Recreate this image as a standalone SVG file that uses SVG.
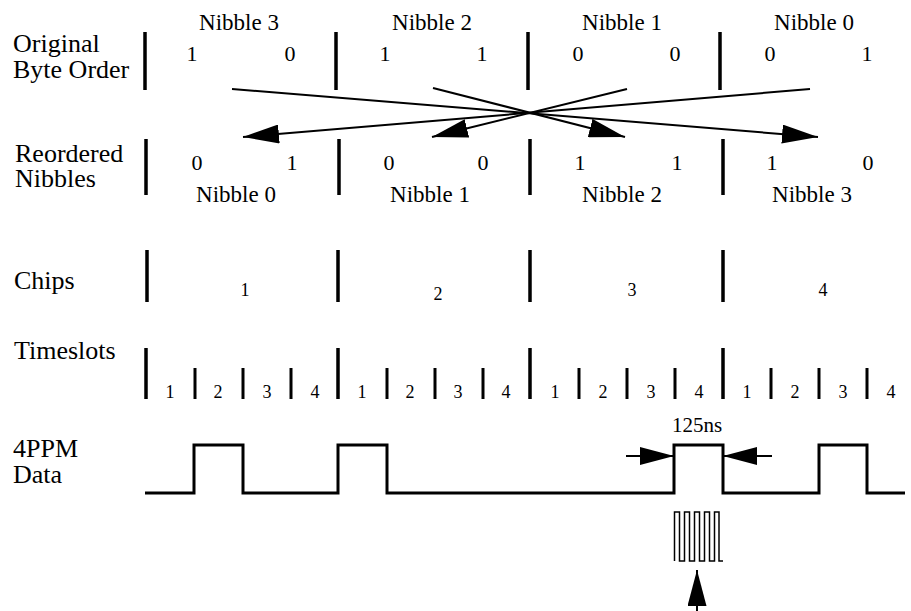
<svg xmlns="http://www.w3.org/2000/svg" width="911" height="611" viewBox="0 0 911 611">
<defs>
<marker id="ah" viewBox="0 0 36 19" refX="36" refY="9.5" markerWidth="36" markerHeight="19" markerUnits="userSpaceOnUse" orient="auto">
<path d="M0,0 L36,9.5 L0,19 z" fill="#000"/>
</marker>
<marker id="ahs" viewBox="0 0 34 18" refX="34" refY="9" markerWidth="34" markerHeight="18" markerUnits="userSpaceOnUse" orient="auto">
<path d="M0,0 L34,9 L0,18 z" fill="#000"/>
</marker>
</defs>
<rect width="911" height="611" fill="#fff"/>

<g id="labels" font-family="Liberation Serif" font-size="26">
<text x="13" y="52">Original</text>
<text x="13" y="78">Byte Order</text>
<text x="15" y="162">Reordered</text>
<text x="15" y="187">Nibbles</text>
<text x="14" y="289">Chips</text>
<text x="14" y="359">Timeslots</text>
<text x="13" y="457">4PPM</text>
<text x="13" y="483">Data</text>
</g>

<g id="original-byte-order" font-family="Liberation Serif" text-anchor="middle">
<path d="M145,32V90M336,32V90M528,32V90M720,32V90" stroke="#000" stroke-width="3.5" fill="none"/>
<g font-size="23">
<text x="239" y="30">Nibble 3</text>
<text x="432" y="30">Nibble 2</text>
<text x="622" y="30">Nibble 1</text>
<text x="814" y="30">Nibble 0</text>
</g>
<g font-size="22">
<text x="192" y="61">1</text>
<text x="290" y="61">0</text>
<text x="385" y="61">1</text>
<text x="482" y="61">1</text>
<text x="578" y="61">0</text>
<text x="675" y="61">0</text>
<text x="770" y="61">0</text>
<text x="867" y="61">1</text>
</g>
</g>

<g id="reordered-nibbles" font-family="Liberation Serif" text-anchor="middle">
<path d="M146,139V195M339,139V195M530,139V195M723,139V195" stroke="#000" stroke-width="3.5" fill="none"/>
<g font-size="22">
<text x="197" y="170">0</text>
<text x="292" y="170">1</text>
<text x="389" y="170">0</text>
<text x="483" y="170">0</text>
<text x="580" y="170">1</text>
<text x="677" y="170">1</text>
<text x="772" y="170">1</text>
<text x="868" y="170">0</text>
</g>
<g font-size="23">
<text x="236" y="202">Nibble 0</text>
<text x="430" y="202">Nibble 1</text>
<text x="622" y="202">Nibble 2</text>
<text x="812" y="202">Nibble 3</text>
</g>
</g>

<g id="chips" font-family="Liberation Serif" font-size="18" text-anchor="middle">
<path d="M147,250V302M338,250V302M530,250V302M723,250V302" stroke="#000" stroke-width="3.5" fill="none"/>
<text x="245" y="296">1</text>
<text x="438" y="300">2</text>
<text x="632" y="296">3</text>
<text x="823" y="296">4</text>
</g>

<g id="timeslots" font-family="Liberation Serif" font-size="18" text-anchor="middle">
<path d="M146,348V399M338,348V399M530,348V399M723,348V399" stroke="#000" stroke-width="3.5" fill="none"/>
<path d="M195,368V399M243,368V399M291,368V399M387,368V399M435,368V399M483,368V399M579,368V399M627,368V399M675,368V399M771,368V399M819,368V399M867,368V399" stroke="#000" stroke-width="3" fill="none"/>
<text x="170" y="398">1</text>
<text x="218" y="398">2</text>
<text x="267" y="398">3</text>
<text x="315" y="398">4</text>
<text x="362" y="398">1</text>
<text x="410" y="398">2</text>
<text x="458" y="398">3</text>
<text x="506" y="398">4</text>
<text x="555" y="398">1</text>
<text x="603" y="398">2</text>
<text x="651" y="398">3</text>
<text x="699" y="398">4</text>
<text x="747" y="398">1</text>
<text x="795" y="398">2</text>
<text x="843" y="398">3</text>
<text x="891" y="398">4</text>
</g>

<g id="ppm-data">
<path d="M145,493H194V445H243V493H338V445H387V493H674V445H723V493H819V445H867V493H905" stroke="#000" stroke-width="3" fill="none"/>
<text x="697" y="432" font-size="21" text-anchor="middle" font-family="Liberation Serif">125ns</text>
</g>

<g id="chip-waveform">
<path d="M674.5,561V512H679.5V561H684.5V512H689.5V561H694.5V512H699.5V561H704.5V512H709.5V561H714.5V512H719V561H723" stroke="#000" stroke-width="1.5" fill="none"/>
</g>

<g id="connectors" stroke="#000" stroke-width="2" fill="none">
<line x1="232" y1="89" x2="818" y2="137" marker-end="url(#ah)"/>
<line x1="433" y1="88" x2="625" y2="137" marker-end="url(#ah)"/>
<line x1="627" y1="89" x2="432" y2="137" marker-end="url(#ah)"/>
<line x1="810" y1="89" x2="243" y2="137" marker-end="url(#ah)"/>
<line x1="626" y1="456" x2="674" y2="456" marker-end="url(#ahs)"/>
<line x1="772" y1="456" x2="723" y2="456" marker-end="url(#ahs)"/>
<line x1="697" y1="611" x2="697" y2="570" marker-end="url(#ah)"/>
</g>
</svg>
